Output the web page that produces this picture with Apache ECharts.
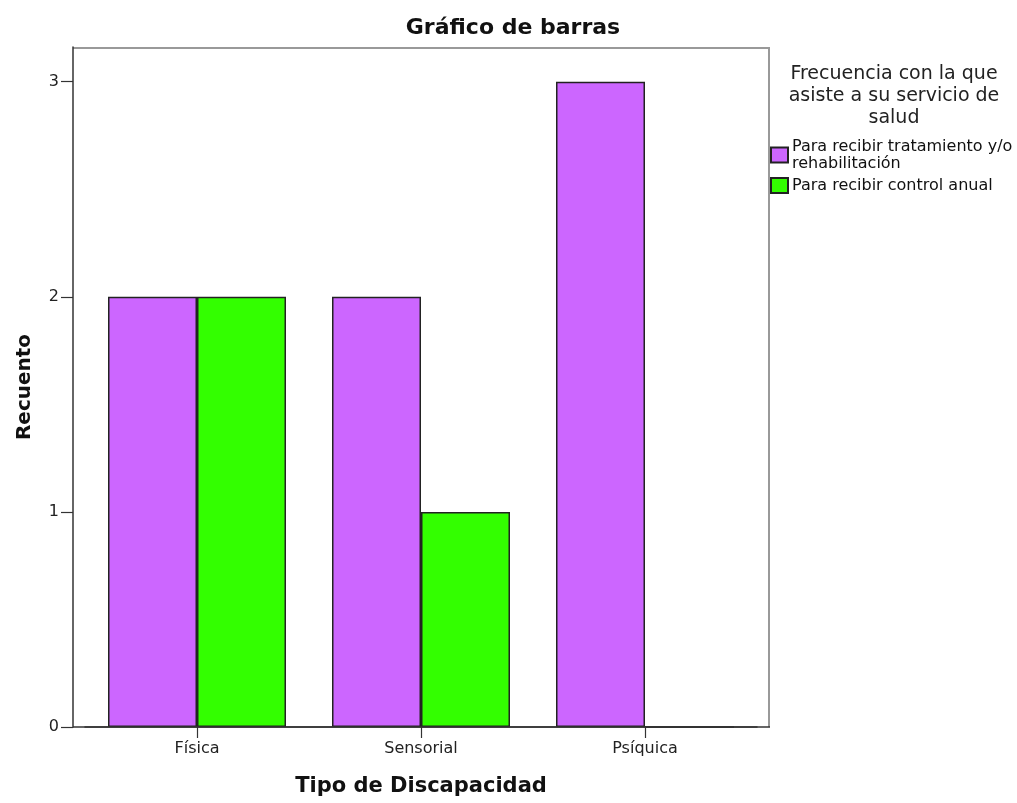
<!DOCTYPE html>
<html>
<head>
<meta charset="utf-8">
<script src="https://cdn.jsdelivr.net/npm/echarts@6/dist/echarts.min.js"></script>
<style>
  html, body { margin: 0; padding: 0; background: #fff; }
  #chart { width: 1017px; height: 803px; }
</style>
</head>
<body>
<div id="chart"></div>
<script>
// Tipo de discapacidad vs. frecuencia de asistencia al servicio de salud
const categories = ['Física', 'Sensorial', 'Psíquica'];
const seriesNames = ['Para recibir tratamiento y/o\nrehabilitación', 'Para recibir control anual'];
const tratamiento = [2, 2, 3];
const controlAnual = [2, 1, 0];
const yTicks = [0, 1, 2, 3];

const FONT = '"DejaVu Sans", Verdana, sans-serif';
const chart = echarts.init(document.getElementById('chart'), null, { renderer: 'canvas' });

// plot frame edges (pixels)
const FX0 = 73, FX1 = 769, FY0 = 47, FY1 = 727;

chart.setOption({
  backgroundColor: '#ffffff',
  animation: false,
  textStyle: { fontFamily: FONT },
  title: [
    {
      text: 'Gráfico de barras',
      left: 508, top: 12, textAlign: 'center',
      textStyle: { fontFamily: FONT, fontSize: 22, fontWeight: 'bold', color: '#111' }
    },
    {
      text: 'Frecuencia con la que\nasiste a su servicio de\nsalud',
      left: 889, top: 58, textAlign: 'center',
      textStyle: { fontFamily: FONT, fontSize: 19, fontWeight: 'normal', color: '#222', lineHeight: 22 }
    }
  ],
  legend: {
    orient: 'vertical',
    left: 770, top: 138,
    padding: 0,
    itemWidth: 17, itemHeight: 15, itemGap: 5,
    icon: 'rect',
    data: seriesNames,
    textStyle: { fontFamily: FONT, fontSize: 16, color: '#111', lineHeight: 17, padding: [0, 0, 0, -1] }
  },
  grid: { left: 85, top: FY0, width: 672, height: FY1 - FY0, outerBoundsMode: 'none', containLabel: false },
  graphic: [
    { type: 'line', shape: { x1: FX0, y1: FY0 + 1, x2: FX1, y2: FY0 + 1 }, style: { stroke: '#999', lineWidth: 2 }, z: 0 },
    { type: 'line', shape: { x1: FX1, y1: FY0, x2: FX1, y2: FY1 }, style: { stroke: '#999', lineWidth: 2 }, z: 0 },
    { type: 'line', shape: { x1: FX0, y1: FY1, x2: FX1 + 1, y2: FY1 }, style: { stroke: '#333', lineWidth: 1.5 }, z: 10 }
  ],
  xAxis: {
    type: 'category',
    data: categories,
    boundaryGap: true,
    name: 'Tipo de Discapacidad',
    nameLocation: 'middle',
    nameGap: 49,
    nameTextStyle: { fontFamily: FONT, fontSize: 21, fontWeight: 'bold', color: '#111' },
    axisLine: { show: true, lineStyle: { color: '#333', width: 1.5 } },
    axisTick: { show: true, alignWithLabel: true, length: 11, lineStyle: { color: '#333', width: 1.2 } },
    axisLabel: { fontFamily: FONT, fontSize: 16, color: '#222', margin: 14 },
    splitLine: { show: false }
  },
  yAxis: {
    type: 'value',
    min: 0, max: 3.161, interval: 1,
    offset: 12,
    name: 'Recuento',
    nameLocation: 'middle',
    nameGap: 38,
    nameRotate: 90,
    nameTextStyle: { fontFamily: FONT, fontSize: 20, fontWeight: 'bold', color: '#111' },
    axisLine: { show: true, lineStyle: { color: '#333', width: 1.5 } },
    axisTick: { show: true, length: 12, customValues: yTicks, lineStyle: { color: '#333', width: 1.2 } },
    axisLabel: { fontFamily: FONT, fontSize: 16, color: '#222', margin: 14, customValues: yTicks },
    splitLine: { show: false }
  },
  series: [
    {
      name: seriesNames[0],
      type: 'bar',
      data: tratamiento,
      barWidth: 89,
      barGap: '0%',
      itemStyle: { color: '#cc66ff', borderColor: '#222', borderWidth: 1.5 }
    },
    {
      name: seriesNames[1],
      type: 'bar',
      data: controlAnual,
      barWidth: 89,
      barGap: '0%',
      itemStyle: { color: '#33ff00', borderColor: '#222', borderWidth: 1.5 }
    }
  ]
});
</script>
</body>
</html>
